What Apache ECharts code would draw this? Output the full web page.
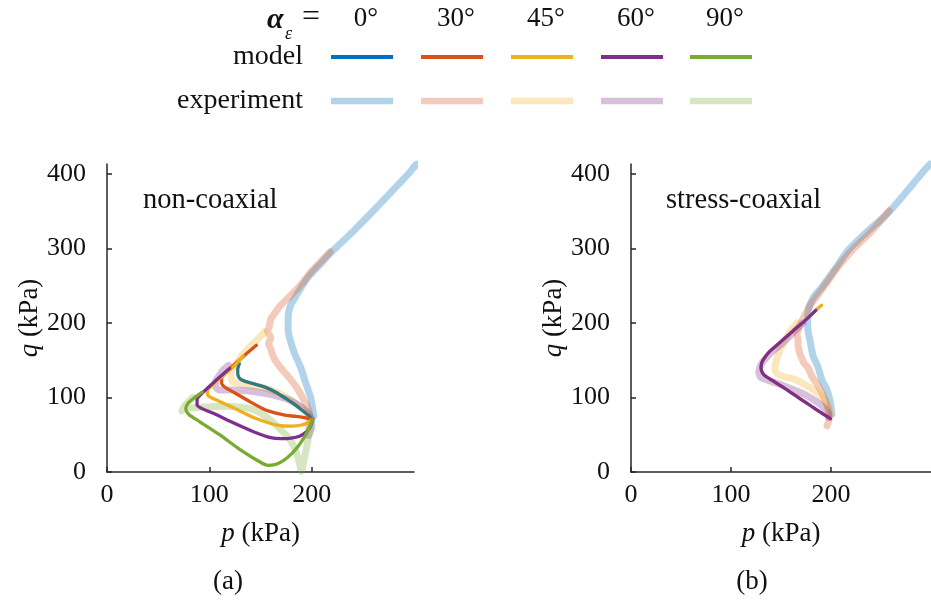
<!DOCTYPE html>
<html>
<head>
<meta charset="utf-8">
<script src="https://cdn.jsdelivr.net/npm/echarts@6/dist/echarts.min.js"></script>
<style>html,body{margin:0;padding:0;background:#fff}#c{width:931px;height:601px}</style>
</head>
<body>
<div id="c"></div>
<script>
// ---- data (p, q in kPa) ----
const angles = ['0°', '30°', '45°', '60°', '90°'];
const xTicks = [0, 100, 200];
const yTicks = [0, 100, 200, 300, 400];

// (a) non-coaxial : model
const m0A = [[201,70.6],[196,77],[190,83.6],[183,91],[175,98.4],[165,107],[155,113.5],[143,118.5],[135,121.5],[130,125],[128,130],[127.7,137],[129.3,145.3]];
const m30A = [[201,70.6],[194,72.5],[185,74.5],[175,76],[165,79],[155,83],[140,94],[125,106],[116,113],[112,119],[112,126],[116,133],[122,141],[134,156],[146,170]];
const m45A = [[201,70.6],[196,66],[190,63],[182,61.5],[170,62],[160,65],[145,72],[125,85],[108,96],[100,101],[98,106],[99,111],[103,117],[115,131],[125,143],[133,156]];
const m60A = [[201,70.6],[199,62],[195,54],[188,48],[180,45.5],[170,44.8],[160,46],[145,53],[125,65],[105,78],[93,85],[88,90],[88,97],[94,107],[105,121],[120,139]];
const m90A = [[201,70.6],[198,60],[193,47],[187,35],[180,24],[172,15],[164,10],[157,9],[150,13],[130,30],[110,50],[90,68],[80,77],[77,84],[79,92],[85,99],[93,107]];
// (a) non-coaxial : experiment
const e0A = [[202,75],[199,100],[194,120],[189,141],[183,160],[179,177],[177,190],[177,207],[179,222],[183,232],[190,248],[197,262],[208,278],[218,293],[240,322],[265,357],[285,386],[296,402],[301,411],[303,413],[299,407]];
const e30A = [[197,60],[198.4,70],[197,83],[193,95],[185,114],[177,128],[169,141],[163,153],[160,165],[158,172],[160,180],[157,188],[159,197],[160,205],[164,213],[170,224],[179,236],[190,252],[198,266],[208,281],[218,295]];
const e45A = [[198,68],[198,74],[194,80],[188.7,87],[180,96],[169,105],[160,110],[150,114],[140,116],[130,118.5],[123,121],[121.5,126],[122,136],[126,145],[131,155],[137,164],[145,175],[154,188]];
const e60A = [[197,49],[200,60],[200,70],[197,78],[190,87],[179,96],[168,101],[156,105],[143,108],[130,109.5],[118,110],[110,110],[106,114],[106,121],[109,128],[113,136],[119,143]];
const e90A = [[199,68],[198,55],[195,33],[192,12],[190,1],[188,12],[184,30],[178,45],[169,58],[160,69],[150,79],[140,85],[125,87.5],[110,88],[95,87],[82,86],[75,84],[73,82],[76,89],[80,95],[84,100]];

// (b) stress-coaxial : model
const m45B = [[199.4,71.6],[190,79.5],[180,88.5],[170,97.5],[160,106.5],[150,115.5],[141,123],[135,128],[131.5,133],[130,139],[131,147.5],[134,154],[139,162],[150,175],[162,189],[174,203],[184.8,216.8],[190.6,223.5]];
const m60B = [[199.4,71.6],[190,79.5],[180,88.5],[170,97.5],[160,106.5],[150,115.5],[141,123],[135,128],[131.5,133],[130,139],[131,147.5],[134,154],[139,162],[150,175],[162,189],[174,203],[184.8,216.8]];
// (b) stress-coaxial : experiment
const e0B = [[201,78],[199,96],[196,110],[191,123],[187,141],[182,156],[179,176],[177,190],[176.6,203],[177,212],[178,221],[183,235],[191,248],[204,272],[217,297],[236,322],[256,346],[275,375],[293,404],[302,417]];
const e30B = [[196,62],[198,70],[198,78],[194.5,96],[186,118],[181,128],[177,140],[173,146],[171,152],[169,158],[168,163],[167,170],[167,177],[166,184],[167,190],[170,200],[173,208],[180,225],[190,243],[196,254],[207,275],[221,297],[240,322],[258,350]];
const e45B = [[199,76],[199,80],[196,90],[191,100],[184,109],[178,114],[170,120],[162,125],[152,128],[146,132],[144,140],[145,148],[148,160],[152,172],[156,182],[160,190],[166,200]];
const e60B = [[198,73],[197,80],[188,92],[172,105],[152,116],[137,123],[130,127],[127.8,134],[129,141],[132,148],[140,160],[150,171],[158,181],[166,192],[172,200]];

// ---- styles ----
const COLORS = ['#0072BD', '#D95319', '#EDB120', '#7E2F8E', '#77AC30'];
const TEAL = '#2f7b80';
const FONT = 'Liberation Serif';
const INK = '#111';
function light(hex, a) {
  const n = parseInt(hex.slice(1), 16);
  return 'rgba(' + (n >> 16) + ',' + ((n >> 8) & 255) + ',' + (n & 255) + ',' + a + ')';
}
const EXP_A = 0.3;
const EXP_W = 7;
const MOD_W = 3.3;

function series(data, grid, color, width) {
  return {
    type: 'line', data: data, xAxisIndex: grid, yAxisIndex: grid,
    symbol: 'none', smooth: 0.25, silent: true, animation: false,
    lineStyle: { color: color, width: width, cap: 'round', join: 'round' }
  };
}

const allSeries = [
  // experiments (a)
  series(e0A, 0, light(COLORS[0], EXP_A), EXP_W),
  series(e30A, 0, light(COLORS[1], EXP_A), EXP_W),
  series(e45A, 0, light(COLORS[2], EXP_A), EXP_W),
  series(e60A, 0, light(COLORS[3], EXP_A), EXP_W),
  series(e90A, 0, light(COLORS[4], EXP_A), EXP_W),
  // models (a)
  series(m0A, 0, TEAL, MOD_W),
  series(m30A, 0, COLORS[1], MOD_W),
  series(m45A, 0, COLORS[2], MOD_W),
  series(m60A, 0, COLORS[3], MOD_W),
  series(m90A, 0, COLORS[4], MOD_W),
  // experiments (b)
  series(e0B, 1, light(COLORS[0], EXP_A), EXP_W),
  series(e30B, 1, light(COLORS[1], EXP_A), EXP_W),
  series(e45B, 1, light(COLORS[2], EXP_A), EXP_W),
  series(e60B, 1, light(COLORS[3], EXP_A), EXP_W),
  // models (b)
  series(m45B, 1, COLORS[2], MOD_W),
  series(m60B, 1, COLORS[3], MOD_W)
];

const nameStyle = { fontFamily: FONT, fontSize: 27, color: INK, rich: { i: { fontFamily: FONT, fontSize: 27, fontStyle: 'italic', color: INK } } };
function xAxis(grid) {
  return {
    type: 'value', gridIndex: grid, min: 0, max: 300, interval: 100,
    name: '{i|p} (kPa)', nameLocation: 'middle', nameGap: 48,
    nameTextStyle: nameStyle,
    axisLine: { lineStyle: { color: '#262626', width: 1.5 } },
    axisTick: { inside: true, length: 5, customValues: xTicks, lineStyle: { color: '#262626', width: 1.5 } },
    axisLabel: { customValues: xTicks, fontFamily: FONT, fontSize: 26, color: INK, margin: 10 },
    splitLine: { show: false }
  };
}
function yAxis(grid) {
  return {
    type: 'value', gridIndex: grid, min: 0, max: 413, interval: 100,
    name: '{i|q} (kPa)', nameLocation: 'middle', nameGap: 62, nameRotate: 90,
    nameTextStyle: nameStyle,
    axisLine: { lineStyle: { color: '#262626', width: 1.5 } },
    axisTick: { inside: true, length: 5, customValues: yTicks, lineStyle: { color: '#262626', width: 1.5 } },
    axisLabel: { customValues: yTicks, fontFamily: FONT, fontSize: 26, color: INK, margin: 21 },
    splitLine: { show: false }
  };
}

// ---- legend built as graphic ----
const colX = [362, 452, 542, 632, 721];
const legendGraphics = [];
function txt(x, y, s, size, align, extra) {
  return Object.assign({ type: 'text', x: x, y: y, silent: true,
    style: Object.assign({ text: s, fontFamily: FONT, fontSize: size, fill: INK, align: align, verticalAlign: 'middle' }, extra || {}) });
}
legendGraphics.push(txt(267, 20, 'α', 30, 'left', { fontStyle: 'italic', fontWeight: 'bold' }));
legendGraphics.push(txt(285, 34, 'ε', 18, 'left', { fontStyle: 'italic' }));
legendGraphics.push(txt(320, 18, '=', 32, 'right'));
legendGraphics.push(txt(303, 57, 'model', 28, 'right'));
legendGraphics.push(txt(303, 101, 'experiment', 28, 'right'));
angles.forEach(function (a, i) {
  legendGraphics.push(txt(colX[i] + 4, 19, a, 27, 'center'));
  legendGraphics.push({ type: 'line', silent: true, shape: { x1: colX[i] - 31, y1: 57, x2: colX[i] + 31, y2: 57 },
    style: { stroke: COLORS[i], lineWidth: 3.8 } });
  legendGraphics.push({ type: 'line', silent: true, shape: { x1: colX[i] - 31, y1: 101, x2: colX[i] + 31, y2: 101 },
    style: { stroke: light(COLORS[i], EXP_A), lineWidth: 6.5 } });
});
legendGraphics.push(txt(143, 201, 'non-coaxial', 28.5, 'left'));
legendGraphics.push(txt(666, 201, 'stress-coaxial', 28.5, 'left'));
legendGraphics.push(txt(228, 582, '(a)', 27, 'center'));
legendGraphics.push(txt(752, 582, '(b)', 27, 'center'));

const chart = echarts.init(document.getElementById('c'), null, { renderer: 'canvas' });
chart.setOption({
  backgroundColor: '#fff',
  animation: false,
  grid: [
    { left: 107, top: 164, width: 307, height: 308 },
    { left: 631, top: 164, width: 307, height: 308 }
  ],
  xAxis: [xAxis(0), xAxis(1)],
  yAxis: [yAxis(0), yAxis(1)],
  series: allSeries,
  graphic: legendGraphics
});
</script>
</body>
</html>
